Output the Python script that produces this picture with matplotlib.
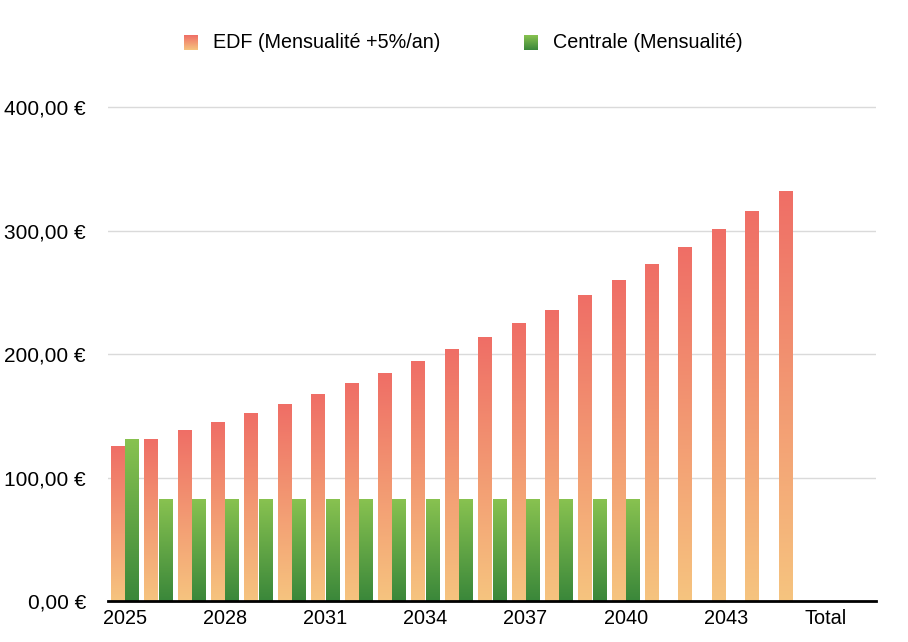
import numpy as np
import matplotlib
matplotlib.use("Agg")
import matplotlib.pyplot as plt
from matplotlib.colors import LinearSegmentedColormap

categories = [str(y) for y in range(2025, 2046)] + ["Total"]
edf = [125.00, 131.25, 137.81, 144.70, 151.94, 159.54, 167.51, 175.89, 184.68,
       193.92, 203.61, 213.79, 224.48, 235.71, 247.49, 259.87, 272.86, 286.50,
       300.83, 315.87, 331.66, None]
centrale = [131.0, 82.0, 82.0, 82.0, 82.0, 82.0, 82.0, 82.0, 82.0, 82.0, 82.0,
            82.0, 82.0, 82.0, 82.0, 82.0, None, None, None, None, None, None]
yticks = [0, 100, 200, 300, 400]
ytick_labels = ["0,00 €", "100,00 €", "200,00 €", "300,00 €", "400,00 €"]
tick_idx = [0, 3, 6, 9, 12, 15, 18, 21]
series_names = ["EDF (Mensualité +5%/an)", "Centrale (Mensualité)"]

plt.rcParams['font.family'] = ['Liberation Sans', 'DejaVu Sans']

red_cmap = LinearSegmentedColormap.from_list("r", ["#F6C47F", "#EF6E66"])
green_cmap = LinearSegmentedColormap.from_list("g", ["#3A873A", "#88C250"])

fig = plt.figure(figsize=(9.08, 6.42), dpi=100)
ax = fig.add_axes([108/908, 1-601/642, (876-108)/908, (601-95)/642])
ax.set_xlim(-0.5, 22.5)
ax.set_ylim(0, 410)

grad = np.linspace(0, 1, 256).reshape(-1, 1)
bw = 0.4
gap = 0.03
for i, v in enumerate(edf):
    if v is None:
        continue
    x0 = i - bw - gap/2
    ax.imshow(grad, cmap=red_cmap, origin='lower', aspect='auto',
              extent=(x0, x0 + bw, 0, v), zorder=3, interpolation='bilinear')
for i, v in enumerate(centrale):
    if v is None:
        continue
    x0 = i + gap/2
    ax.imshow(grad, cmap=green_cmap, origin='lower', aspect='auto',
              extent=(x0, x0 + bw, 0, v), zorder=3, interpolation='bilinear')
ax.set_xlim(-0.5, 22.5)
ax.set_ylim(0, 410)

for s in ['top', 'right', 'left']:
    ax.spines[s].set_visible(False)
ax.spines['bottom'].set_linewidth(2)
ax.spines['bottom'].set_color('black')
ax.spines['bottom'].set_zorder(5)

ax.set_yticks(yticks)
ax.set_yticklabels(ytick_labels, fontsize=15)
ax.tick_params(axis='y', length=0, pad=16)
for y in yticks[1:]:
    ax.axhline(y, color='#DADADA', lw=1, zorder=1)

ax.set_xticks(tick_idx)
ax.set_xticklabels([categories[i] for i in tick_idx], fontsize=14.3)
ax.tick_params(axis='x', length=0, pad=6)

# legend
def legend_square(xpx, cmap):
    lax = fig.add_axes([xpx/908, 1-50/642, 14/908, 15/642])
    lax.imshow(grad, cmap=cmap, origin='lower', aspect='auto')
    lax.axis('off')

legend_square(184, red_cmap)
fig.text(213/908, 1-43/642, series_names[0], fontsize=14.2, va='center', ha='left')
legend_square(524, green_cmap)
fig.text(553/908, 1-43/642, series_names[1], fontsize=14.2, va='center', ha='left')

fig.savefig("out.png", dpi=100)
